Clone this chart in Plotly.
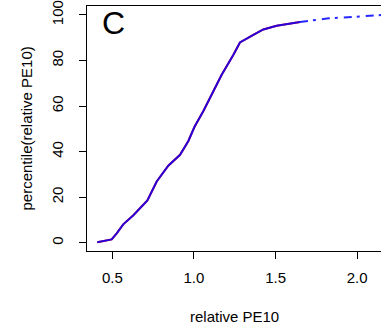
import plotly.graph_objects as go

# ECDF-like curve: relative PE10 vs percentile
rel_pe10 = [0.408, 0.496, 0.527, 0.567, 0.629, 0.680, 0.715, 0.772, 0.843, 0.915,
            0.966, 1.003, 1.058, 1.119, 1.170, 1.241, 1.282, 1.364, 1.425, 1.507, 1.650]
percentile = [0.2, 1.5, 4.1, 8.1, 12.1, 16.1, 18.6, 26.9, 33.8, 38.6,
              44.7, 50.8, 57.8, 66.5, 73.7, 82.4, 87.9, 91.2, 93.6, 95.2, 96.9]
tail_pe10 = [1.650, 1.814, 1.977, 2.14, 2.20]
tail_pct = [96.9, 98.4, 99.1, 100.0, 100.2]

x_ticks = [0.5, 1.0, 1.5, 2.0]
x_ticklabels = ["0.5", "1.0", "1.5", "2.0"]
y_ticks = [0, 20, 40, 60, 80, 100]
y_ticklabels = ["0", "20", "40", "60", "80", "100"]

fig = go.Figure()
fig.add_trace(go.Scatter(x=rel_pe10, y=percentile, mode="lines",
                         line=dict(color="red", width=2), hoverinfo="skip"))
fig.add_trace(go.Scatter(x=rel_pe10, y=percentile, mode="lines",
                         line=dict(color="rgba(0,0,255,0.85)", width=2), hoverinfo="skip"))
fig.add_trace(go.Scatter(x=tail_pe10, y=tail_pct, mode="lines",
                         line=dict(color="rgba(0,0,255,0.85)", width=2, dash="8px,5px,3px,6px"),
                         hoverinfo="skip"))

font = "Liberation Sans, Arial, sans-serif"
fig.update_layout(
    width=381, height=331,
    margin=dict(l=87, r=0, t=4, b=80),
    plot_bgcolor="white", paper_bgcolor="white",
    showlegend=False,
    font=dict(family=font, size=15, color="black"),
    xaxis=dict(range=[0.345, 2.146], tickvals=x_ticks, ticktext=x_ticklabels,
               showgrid=False, zeroline=False, showline=True, linecolor="black",
               linewidth=1, mirror=True, ticks="outside", ticklen=7, tickcolor="black",
               ticklabelstandoff=6, ticklabeloverflow="allow",
               tickfont=dict(family=font, size=15)),
    yaxis=dict(range=[-3.6, 103.9], tickvals=y_ticks, ticktext=y_ticklabels,
               showgrid=False, zeroline=False, showline=True, linecolor="black",
               linewidth=1, ticks="outside", ticklen=7, tickcolor="black",
               ticklabelstandoff=10, ticklabeloverflow="allow",
               tickangle=-90, tickfont=dict(family=font, size=15)),
    annotations=[
        dict(text="relative PE10", xref="paper", yref="paper", x=0.5, y=0,
             xanchor="center", yanchor="middle",
             yshift=-65, showarrow=False, font=dict(family=font, size=15)),
        dict(text="percentile(relative PE10)", xref="paper", yref="paper", x=0, y=0.5,
             xanchor="center", yanchor="middle",
             xshift=-61, textangle=-90, showarrow=False, font=dict(family=font, size=15)),
        dict(text="C", xref="x", yref="y", x=0.505, y=96.5, showarrow=False,
             xanchor="center", yanchor="middle",
             font=dict(family=font, size=32)),
    ],
)

fig.write_html("out.html")
